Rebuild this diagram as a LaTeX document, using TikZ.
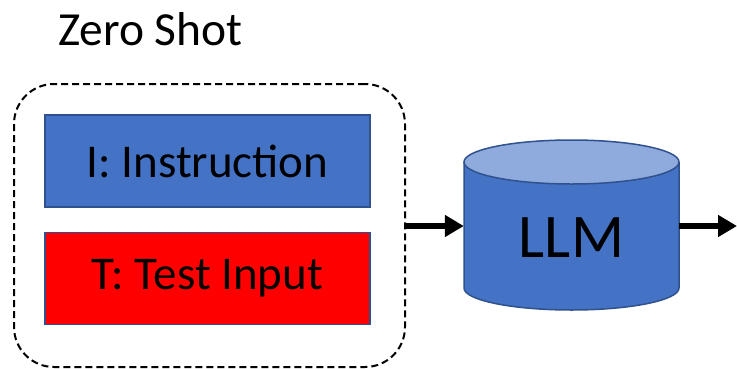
\documentclass[tikz,border=0pt]{standalone}
\usepackage{fontspec}
\setmainfont{Carlito}
\usetikzlibrary{arrows.meta}
\definecolor{boxblue}{HTML}{4472C4}
\definecolor{edgeblue}{HTML}{2F528F}
\definecolor{capblue}{HTML}{8FAADC}
\definecolor{boxred}{HTML}{FF0000}
\tikzset{
  inbox/.style={draw=edgeblue, line width=1.5pt, minimum width=325pt, minimum height=92pt, inner sep=0pt, font=\fontsize{47}{54}\selectfont},
  flow/.style={line width=5.5pt, -{Triangle[length=19pt,width=21pt]}},
}
\begin{document}
\begin{tikzpicture}[x=1pt,y=-1pt]
\useasboundingbox (0,0) rectangle (737,368);
% title
\node[anchor=base west, inner sep=0pt, font=\fontsize{47.5}{54}\selectfont] (title) at (58,45) {Zero Shot};
% dashed prompt container
\node[draw, line width=2pt, dash pattern=on 7pt off 4pt, rounded corners=40pt,
      minimum width=391pt, minimum height=283pt, inner sep=0pt] (prompt) at (209.5,225.5) {};
% prompt parts
\node[inbox, fill=boxblue] (instr) at (207.5,161) {I: Instruction};
\node[inbox, fill=boxred] (test) at (207.5,278.5) {T: Test Input};
% LLM cylinder
\def\cxl{464}\def\cxr{679}
\fill[boxblue] (\cxl,162) -- (\cxl,288) arc[start angle=180,end angle=360,x radius=107.5,y radius=-22] -- (\cxr,162) -- cycle;
\draw[edgeblue, line width=1.5pt] (\cxl,162) -- (\cxl,288) arc[start angle=180,end angle=360,x radius=107.5,y radius=-22] -- (\cxr,162);
\draw[edgeblue, line width=1.5pt, fill=capblue] (571.5,162) ellipse[x radius=107.5, y radius=22];
\node[minimum width=215pt, minimum height=100pt, inner sep=0pt, font=\fontsize{62}{70}\selectfont] (llm) at (571.5,238) {LLM};
\coordinate (out) at (737,226);
% connectors
\draw[flow] (prompt.east |- 0,226) -- (llm.west |- 0,226);
\draw[flow] (llm.east |- 0,226) -- (out);
\end{tikzpicture}
\end{document}
